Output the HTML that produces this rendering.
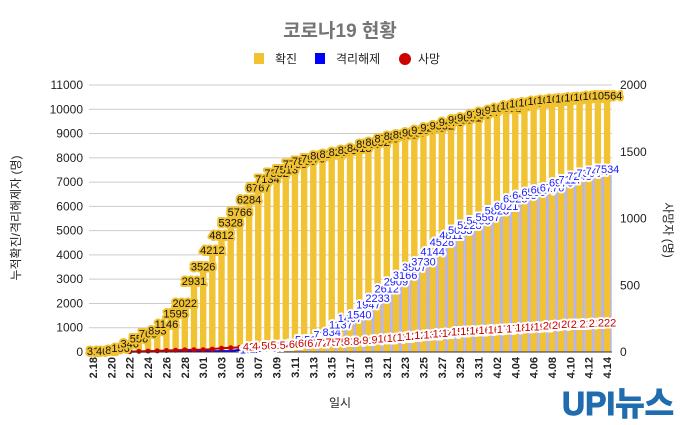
<!DOCTYPE html>
<html><head><meta charset="utf-8"><style>
body{margin:0;background:#fff;width:680px;height:420px;overflow:hidden}
svg text{font-family:"Liberation Sans","Noto Sans CJK KR",sans-serif}
</style></head><body>
<svg id="s" width="680" height="420" xmlns="http://www.w3.org/2000/svg"></svg>
<script>
const C=[31,46,82,156,346,556,763,893,1146,1595,2022,2931,3526,4212,4812,5328,5766,6284,6767,7134,7382,7513,7755,7869,7979,8086,8162,8236,8320,8413,8565,8652,8799,8897,8961,9037,9137,9241,9332,9478,9583,9661,9786,9887,9976,10062,10156,10237,10284,10331,10384,10423,10450,10480,10512,10537,10564];
const R=[12,16,16,16,16,18,18,22,22,24,26,27,30,31,34,41,88,108,118,166,247,288,333,510,510,714,834,1137,1407,1540,1947,2233,2612,2909,3166,3507,3730,4144,4528,4811,5033,5228,5408,5567,5828,6021,6325,6463,6598,6694,6776,6973,7117,7243,7368,7447,7534];
const D=[0,0,1,2,2,5,7,8,11,13,16,17,17,22,28,32,35,42,44,50,51,54,60,66,67,72,75,75,81,84,91,94,102,104,111,120,126,131,139,144,152,158,162,165,169,174,177,183,186,192,200,204,208,211,214,217,222];
const days=[];for(let d=18;d<=29;d++)days.push('2.'+d);for(let d=1;d<=31;d++)days.push('3.'+String(d).padStart(2,'0'));for(let d=1;d<=14;d++)days.push('4.'+String(d).padStart(2,'0'));
const X0=93,DX=9.18,Y0=352,H=267;
const yl=v=>Y0-v/11000*H, yr=v=>Y0-v/2000*H;
let s='';
s+='<text x="340" y="37" text-anchor="middle" font-size="19" font-weight="bold" fill="#757575">코로나19 현황</text>';
s+='<rect x="254" y="53" width="10" height="11" fill="#f1c232"/><text x="275" y="63" font-size="12" fill="#222">확진</text>';
s+='<rect x="315" y="53" width="10" height="11" fill="#0000ff"/><text x="336" y="63" font-size="12" fill="#222">격리해제</text>';
s+='<circle cx="405" cy="59" r="6" fill="#cc0000"/><text x="418" y="63" font-size="12" fill="#222">사망</text>';
for(let i=0;i<=11;i++){const y=yl(i*1000);s+=`<line x1="89" x2="612" y1="${y}" y2="${y}" stroke="#ccc" stroke-width="1"/>`;s+=`<text x="83" y="${y+4}" text-anchor="end" font-size="12" fill="#222">${i*1000}</text>`;}
for(let i=0;i<=4;i++){const y=yr(i*500);s+=`<text x="620" y="${y+4}" font-size="12" fill="#222">${i*500}</text>`;}
for(let i=0;i<57;i++){const x=X0+i*DX;
 if(i>=17){const y=yl(R[i]);s+=`<rect x="${x-4.6}" y="${y}" width="9.2" height="${Y0-y}" fill="#b3b3f5"/>`;}
}
for(let i=0;i<57;i++){const x=X0+i*DX,y=yl(C[i]);s+=`<path d="M${x-3.2} ${Y0}V${y+3}a3.2 3.2 0 0 1 6.4 0V${Y0}z" fill="#f1c232"/>`;}
let pb='',pr='';for(let i=0;i<=17;i++){const x=X0+i*DX;pb+=(i?'L':'M')+x+' '+yl(R[i]);pr+=(i?'L':'M')+x+' '+yr(D[i]);}
s+=`<path d="${pb}" stroke="#0000ff" stroke-width="2" fill="none"/><path d="${pr}" stroke="#cc0000" stroke-width="2" fill="none"/>`;
for(let i=0;i<=16;i++){s+=`<circle cx="${X0+i*DX}" cy="${yr(D[i])}" r="2.5" fill="#cc0000"/>`;}
s+=`<line x1="89" x2="612" y1="${Y0}" y2="${Y0}" stroke="#333" stroke-width="1"/>`;
const lab=(x,y,t,f,st)=>`<text x="${x}" y="${y}" text-anchor="middle" font-size="11" fill="${f}" stroke="${st}" stroke-width="4" stroke-linejoin="round" paint-order="stroke">${t}</text>`;
for(let i=0;i<57;i++){const x=X0+i*DX;s+=lab(x,yl(C[i])+4,C[i],'#111','#f1c232');}
for(let i=17;i<57;i++){const x=X0+i*DX;s+=lab(x,yl(R[i])+4,R[i],'#1a1aff','#fff');}
for(let i=17;i<57;i++){const x=X0+i*DX;s+=lab(x,yr(D[i])+4,D[i],'#cc0000','#fff');}
for(let i=0;i<57;i+=2){const x=X0+i*DX;s+=`<text transform="translate(${x+4},357) rotate(-90)" text-anchor="end" font-size="11" font-weight="bold" font-family="Liberation Serif" fill="#222">${days[i]}</text>`;}
s+='<text transform="translate(20,218) rotate(-90)" text-anchor="middle" font-size="12" fill="#222">누적확진/격리해제자 (명)</text>';
s+='<text transform="translate(664,230) rotate(90)" text-anchor="middle" font-size="12" fill="#222">사망자 (명)</text>';
s+='<text x="340" y="407" text-anchor="middle" font-size="12" fill="#222">일시</text>';
s+='<text x="562" y="415" font-size="33" font-weight="bold" fill="#1f6cae" stroke="#1f6cae" stroke-width="1" textLength="112" lengthAdjust="spacingAndGlyphs">UPI뉴스</text>';
document.getElementById('s').innerHTML=s;
</script>
</body></html>
